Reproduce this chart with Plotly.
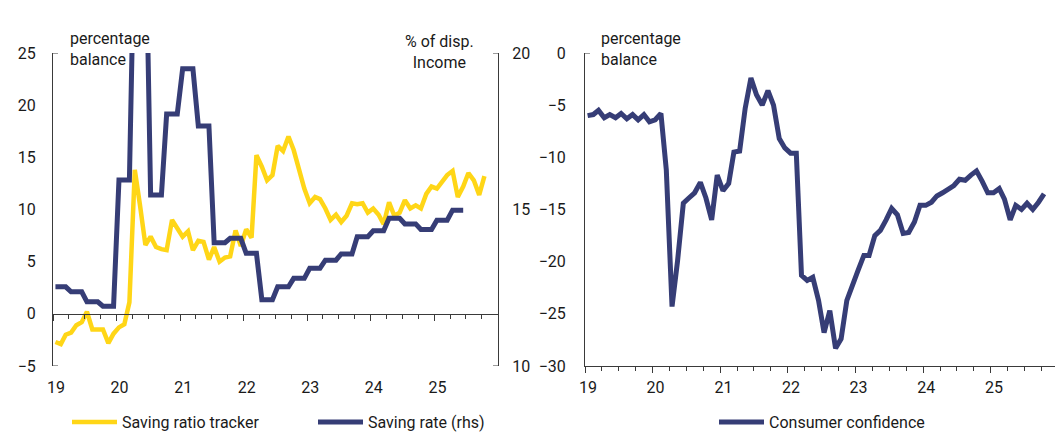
import numpy as np
import pandas as pd
import plotly.graph_objects as go

W, H = 1055, 432

# ---------------- data ----------------
# Saving ratio tracker (percentage balance), monthly Jan 2019 - Oct 2025
saving_tracker = [
    -2.7, -2.9, -2.0, -1.8, -1.1, -0.8, 0.2, -1.5, -1.5, -1.5, -2.8, -1.9,
    -1.3, -1.0, 1.1, 13.8, 10.4, 6.6, 7.4, 6.4, 6.2, 6.1, 9.0, 8.2,
    7.4, 7.9, 6.1, 7.0, 6.9, 5.2, 6.4, 5.0, 5.4, 5.5, 8.0, 6.5,
    8.1, 7.3, 15.2, 14.1, 12.8, 13.3, 16.1, 15.6, 17.0, 15.7, 13.9, 12.0,
    10.6, 11.2, 11.0, 10.1, 9.0, 9.5, 8.8, 9.4, 10.6, 10.5, 10.6, 9.7,
    10.1, 9.5, 8.6, 10.7, 9.4, 9.7, 10.9, 10.1, 10.4, 10.1, 11.5, 12.2,
    12.0, 12.7, 13.3, 13.7, 11.2, 12.2, 13.5, 12.8, 11.4, 13.2,
]
# Household saving rate (% of disposable income), quarterly Q1 2019 - Q2 2025
saving_rate_q = [
    12.53, 12.37, 12.05, 11.91,
    15.94, 24.5, 15.46, 18.05,
    19.5, 17.67, 13.94, 14.08,
    13.6, 12.12, 12.53, 12.8,
    13.12, 13.38, 13.58, 14.13,
    14.32, 14.72, 14.54, 14.36,
    14.66, 14.98,
]
# Consumer confidence (percentage balance), monthly Jan 2019 - Oct 2025
confidence = [
    -6.0, -5.9, -5.5, -6.2, -5.9, -6.2, -5.8, -6.3, -5.9, -6.4, -5.9, -6.6,
    -6.4, -5.8, -11.2, -24.3, -19.9, -14.4, -13.9, -13.4, -12.4, -13.9, -16.0, -11.7,
    -13.2, -12.5, -9.5, -9.4, -5.3, -2.4, -4.0, -5.0, -3.6, -5.0, -8.2, -9.1,
    -9.6, -9.6, -21.3, -21.8, -21.5, -23.7, -26.8, -24.7, -28.3, -27.4, -23.7, -22.1,
    -20.8, -19.4, -19.4, -17.5, -17.0, -16.0, -14.9, -15.5, -17.3, -17.2, -16.2, -14.6,
    -14.6, -14.3, -13.7, -13.4, -13.1, -12.7, -12.1, -12.2, -11.7, -11.3, -12.3, -13.4,
    -13.4, -13.0, -14.0, -16.0, -14.6, -15.0, -14.4, -15.0, -14.3, -13.5,
]
start_month = "2019-01-01"

year_ticks = ["2019-01-01", "2020-01-01", "2021-01-01", "2022-01-01",
              "2023-01-01", "2024-01-01", "2025-01-01"]
year_labels = ["19", "20", "21", "22", "23", "24", "25"]
left_y_ticks = [-5, 0, 5, 10, 15, 20, 25]
right_y_ticks = [10, 15, 20]
conf_y_ticks = [-30, -25, -20, -15, -10, -5, 0]

# ---------------- styling ----------------
YELLOW = "#FFD617"
NAVY = "#363D76"
AX = "#3a3a3a"
TXT = "#1a1a1a"
FONT = "Roboto"
FS = 16


def mid_months(n):
    return pd.date_range(start_month, periods=n, freq="MS") + pd.Timedelta(days=14)


x_tracker = mid_months(len(saving_tracker))
x_rate = mid_months(3 * len(saving_rate_q))
y_rate = np.repeat(saving_rate_q, 3)
x_conf = mid_months(len(confidence))

fig = go.Figure()
fig.add_trace(go.Scatter(x=x_tracker, y=saving_tracker, mode="lines",
                         name="Saving ratio tracker", xaxis="x", yaxis="y",
                         line=dict(color=YELLOW, width=4.5), legend="legend"))
fig.add_trace(go.Scatter(x=x_rate, y=y_rate, mode="lines",
                         name="Saving rate (rhs)", xaxis="x", yaxis="y2",
                         line=dict(color=NAVY, width=5), legend="legend2"))
fig.add_trace(go.Scatter(x=x_conf, y=confidence, mode="lines",
                         name="Consumer confidence", xaxis="x2", yaxis="y3",
                         line=dict(color=NAVY, width=5), legend="legend3"))

ydom = [66 / H, 379 / H]
zero_pos = ydom[0] + (0 - (-5)) / 30 * (ydom[1] - ydom[0])

tickfont = dict(family=FONT, size=FS, color=TXT)
xcommon = dict(type="date", showline=True, linecolor=AX, linewidth=1,
               ticks="outside", ticklen=6, tickcolor=AX, tickwidth=1,
               tickmode="array", tickvals=year_ticks, ticktext=year_labels,
               minor=dict(dtick="M3", tick0="2019-01-01", ticks="outside",
                          ticklen=4, tickcolor=AX, tickwidth=1, showgrid=False),
               showgrid=False, zeroline=False, tickfont=tickfont,
               ticklabelshift=3, automargin=False, fixedrange=True)
ycommon = dict(showline=True, linecolor=AX, linewidth=1, ticks="",
               showgrid=False, zeroline=False, tickfont=tickfont,
               automargin=False, fixedrange=True)

fig.update_layout(
    width=W, height=H, template="none",
    margin=dict(l=0, r=0, t=0, b=0, pad=0, autoexpand=False),
    paper_bgcolor="white", plot_bgcolor="rgba(0,0,0,0)",
    font=dict(family=FONT, size=FS, color=TXT),
    xaxis=dict(domain=[53 / W, 498 / W], range=["2019-01-01", "2026-01-01"],
               anchor="free", position=zero_pos, ticklabelstandoff=53, **xcommon),
    yaxis=dict(domain=ydom, range=[-5, 25], anchor="x", side="left",
               tickvals=left_y_ticks, ticklabelstandoff=13, **ycommon),
    yaxis2=dict(range=[10, 20], anchor="x", side="right", overlaying="y",
                tickvals=right_y_ticks, ticklabelstandoff=10, **ycommon),
    xaxis2=dict(domain=[585 / W, 1.0], range=["2019-01-01", "2025-12-13"],
                anchor="y3", ticklabelstandoff=1, **xcommon),
    yaxis3=dict(domain=ydom, range=[-30, 0], anchor="x2", side="left",
                tickvals=conf_y_ticks, ticklabelstandoff=15, **ycommon),
    showlegend=True,
)

legend_common = dict(orientation="h", yanchor="middle", xanchor="left",
                     y=10 / H, font=dict(family=FONT, size=FS, color=TXT),
                     itemwidth=45, bgcolor="rgba(0,0,0,0)", borderwidth=0)
fig.update_layout(
    legend=dict(x=67 / W, **legend_common),
    legend2=dict(x=313 / W, **legend_common),
    legend3=dict(x=714 / W, **legend_common),
)

# axis end brackets
stub = dict(type="line", line=dict(color=AX, width=1), xsizemode="pixel")
for yv in (25, -5):
    fig.add_shape(xref="x domain", yref="y", xanchor=0, x0=0, x1=5, y0=yv, y1=yv, **stub)
for yv in (20, 10):
    fig.add_shape(xref="x domain", yref="y2", xanchor=1, x0=-5, x1=0, y0=yv, y1=yv, **stub)
fig.add_shape(xref="x2 domain", yref="y3", xanchor=0, x0=0, x1=5, y0=0, y1=0, **stub)

# unit labels
ann_font = dict(family=FONT, size=FS, color=TXT)
fig.add_annotation(text="percentage<br>balance", xref="paper", yref="paper",
                   x=68 / W, y=1 - 27 / H, xanchor="left", yanchor="top",
                   align="left", showarrow=False, font=ann_font)
fig.add_annotation(text="% of disp.<br>Income", xref="paper", yref="paper",
                   x=439 / W, y=1 - 30 / H, xanchor="center", yanchor="top",
                   align="center", showarrow=False, font=ann_font)
fig.add_annotation(text="percentage<br>balance", xref="paper", yref="paper",
                   x=599 / W, y=1 - 27 / H, xanchor="left", yanchor="top",
                   align="left", showarrow=False, font=ann_font)

fig.write_html("out.html", config={"displayModeBar": False},
               post_script="document.body.style.margin='0';"
                           "document.body.style.overflow='hidden';")
